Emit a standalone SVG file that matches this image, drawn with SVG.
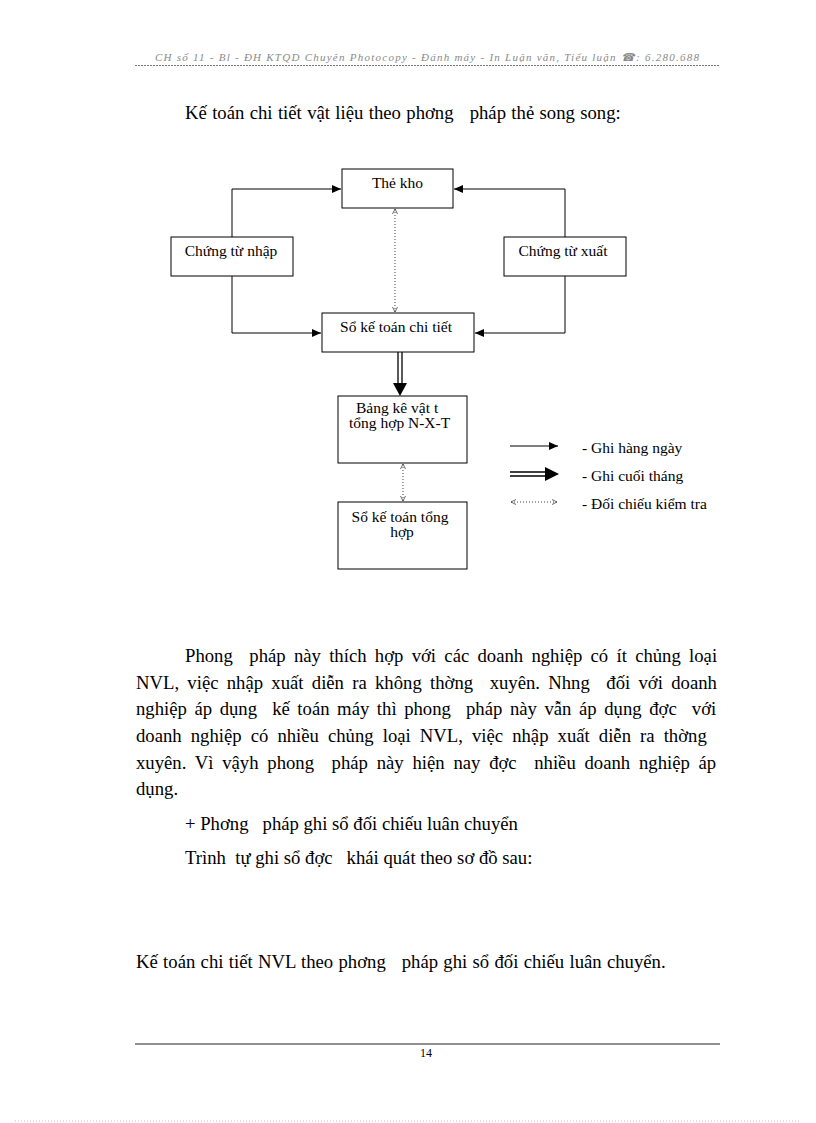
<svg xmlns="http://www.w3.org/2000/svg" width="816" height="1123" viewBox="0 0 816 1123">
<style>
text{font-family:"Liberation Serif","Times New Roman",serif;fill:#000;white-space:pre}
.hdr{font-family:"Liberation Serif",serif;font-style:italic;font-size:11px;fill:#8a8a8a;letter-spacing:1px}
.body{font-size:18.7px}
.lbl{font-size:15.5px}
.box{fill:#fff;stroke:#000;stroke-width:1}
.con{fill:none;stroke:#000;stroke-width:1}
.dot{fill:none;stroke:#444;stroke-width:1;stroke-dasharray:1 2}
</style>
<defs>
<marker id="arr" markerUnits="userSpaceOnUse" markerWidth="10" markerHeight="8" refX="9" refY="4" orient="auto">
<path d="M0,0 L9,4 L0,8 Z" fill="#000"/>
</marker>
<marker id="darr" markerUnits="userSpaceOnUse" markerWidth="6" markerHeight="6" refX="5" refY="3" orient="auto-start-reverse">
<path d="M0,0.5 L5,3 L0,5.5" fill="none" stroke="#444" stroke-width="0.8"/>
</marker>
</defs>
<rect width="816" height="1123" fill="#fff"/>

<g id="header">
<text class="hdr" x="155" y="61" textLength="545" lengthAdjust="spacing">CH số 11 - Bl - ĐH KTQD Chuyên Photocopy - Đánh máy - In Luận văn, Tiểu luận ☎: 6.280.688</text>
<line x1="135" y1="65.5" x2="720" y2="65.5" stroke="#777" stroke-width="1" stroke-dasharray="2 1"/>
</g>

<text class="body" x="185" y="119" word-spacing="0.7">Kế toán chi tiết vật liệu theo phơng   pháp thẻ song song:</text>

<g id="connectors">
<polyline class="con" points="232,237 232,189 341,189" marker-end="url(#arr)"/>
<polyline class="con" points="232,276 232,333 321,333" marker-end="url(#arr)"/>
<polyline class="con" points="565,237 565,189 454,189" marker-end="url(#arr)"/>
<polyline class="con" points="565,276 565,333 475,333" marker-end="url(#arr)"/>
<line class="dot" x1="395" y1="209" x2="395" y2="312" marker-start="url(#darr)" marker-end="url(#darr)"/>
<line x1="398" y1="352" x2="398" y2="384" stroke="#000" stroke-width="1.3"/>
<line x1="402" y1="352" x2="402" y2="384" stroke="#000" stroke-width="1.3"/>
<path d="M393,383 L407,383 L400,396 Z" fill="#000"/>
<line class="dot" x1="403" y1="464" x2="403" y2="501" marker-start="url(#darr)" marker-end="url(#darr)"/>
</g>

<g id="the-kho">
<rect class="box" x="342" y="169" width="111" height="39"/>
<text class="lbl" x="397.5" y="188" text-anchor="middle">Thẻ kho</text>
</g>
<g id="chung-tu-nhap">
<rect class="box" x="171" y="237" width="122" height="39"/>
<text class="lbl" x="231" y="256" text-anchor="middle">Chứng từ nhập</text>
</g>
<g id="chung-tu-xuat">
<rect class="box" x="504" y="237" width="122" height="39"/>
<text class="lbl" x="563" y="256" text-anchor="middle">Chứng từ xuất</text>
</g>
<g id="so-ke-toan-chi-tiet">
<rect class="box" x="322" y="313" width="152" height="39"/>
<text class="lbl" x="396" y="332" text-anchor="middle">Sổ kế toán chi tiết</text>
</g>
<g id="bang-ke">
<rect class="box" x="338" y="396" width="129" height="67"/>
<text class="lbl" x="356" y="413">Bảng kê vật t</text>
<text class="lbl" x="349" y="428">tổng hợp N-X-T</text>
</g>
<g id="so-ke-toan-tong-hop">
<rect class="box" x="338" y="502" width="129" height="67"/>
<text class="lbl" x="400" y="522" text-anchor="middle">Sổ kế toán tổng</text>
<text class="lbl" x="402" y="537" text-anchor="middle">hợp</text>
</g>

<g id="legend">
<line class="con" x1="510" y1="446" x2="558" y2="446" marker-end="url(#arr)"/>
<line x1="510" y1="472" x2="546" y2="472" stroke="#000" stroke-width="1.5"/>
<line x1="510" y1="476" x2="546" y2="476" stroke="#000" stroke-width="1.5"/>
<path d="M545,467 L559,474 L545,481 Z" fill="#000"/>
<line class="dot" x1="511" y1="502" x2="557" y2="502" marker-start="url(#darr)" marker-end="url(#darr)"/>
<text class="lbl" x="582" y="453">- Ghi hàng ngày</text>
<text class="lbl" x="582" y="481">- Ghi cuối tháng</text>
<text class="lbl" x="582" y="509">- Đối chiếu kiểm tra</text>
</g>

<g id="body">
<text class="body" x="185" y="662" word-spacing="3.6">Phong  pháp này thích hợp với các doanh nghiệp có ít chủng loại</text>
<text class="body" x="136" y="689" word-spacing="3.6">NVL, việc nhập xuất diễn ra không thờng  xuyên. Nhng  đối với doanh</text>
<text class="body" x="136" y="715" word-spacing="2.9">nghiệp áp dụng  kế toán máy thì phong  pháp này vẫn áp dụng đợc  với</text>
<text class="body" x="136" y="742" word-spacing="4.4">doanh nghiệp có nhiều chủng loại NVL, việc nhập xuất diễn ra thờng </text>
<text class="body" x="136" y="769" word-spacing="4.1">xuyên. Vì vậyh phong  pháp này hiện nay đợc  nhiều doanh nghiệp áp</text>
<text class="body" x="136" y="795">dụng.</text>
<text class="body" x="185" y="830">+ Phơng   pháp ghi sổ đối chiếu luân chuyển</text>
<text class="body" x="185" y="864">Trình  tự ghi sổ đợc   khái quát theo sơ đồ sau:</text>
<text class="body" x="136" y="968" word-spacing="0.65">Kế toán chi tiết NVL theo phơng   pháp ghi sổ đối chiếu luân chuyển.</text>
</g>

<g id="footer">
<line x1="135" y1="1044" x2="720" y2="1044" stroke="#222" stroke-width="1.2"/>
<text x="426" y="1057" text-anchor="middle" style="font-size:12px">14</text>
<line x1="15" y1="1121" x2="800" y2="1121" stroke="#bbb" stroke-width="1" stroke-dasharray="1 2"/>
</g>
</svg>
